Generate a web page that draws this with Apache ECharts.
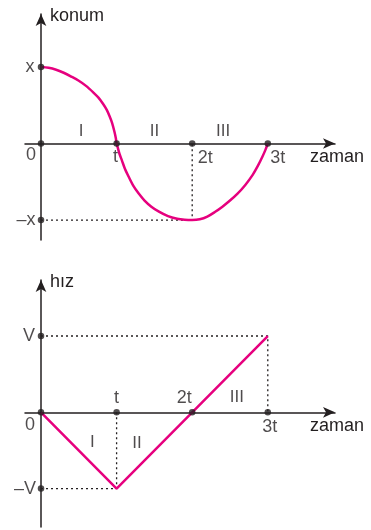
<!DOCTYPE html>
<html>
<head>
<meta charset="utf-8">
<script src="https://cdn.jsdelivr.net/npm/echarts@6/dist/echarts.min.js"></script>
<style>
  html, body { margin: 0; padding: 0; background: #fff; }
  #chart { width: 371px; height: 530px; }
</style>
</head>
<body>
<div id="chart"></div>
<script>
// zaman ekseni (t birimi)
var timeTicks = [0, 1, 2, 3];
var timeLabelsTop = ['0', 't', '2t', '3t'];
var timeLabelsBottom = ['0', 't', '2t', '3t'];

// konum grafiği (resimden okunan noktalar)
var posTicks = [1, -1];
var posLabels = ['x', '\u2013x'];
var konumT = [0, 0.1, 0.2, 0.3, 0.4, 0.5, 0.6, 0.7, 0.76, 0.82, 0.87, 0.91, 0.94, 0.97, 0.99, 1.0,
              1.02, 1.04, 1.07, 1.11, 1.16, 1.22, 1.29, 1.37, 1.46, 1.56, 1.68, 1.8, 1.9, 2.0,
              2.1, 2.2, 2.3, 2.4, 2.5, 2.6, 2.7, 2.8, 2.87, 2.93, 2.97, 3.0];
var konumX = [1, 0.99, 0.965, 0.925, 0.875, 0.82, 0.75, 0.66, 0.6, 0.52, 0.44, 0.35, 0.27, 0.16, 0.07, 0,
              -0.07, -0.14, -0.22, -0.33, -0.435, -0.55, -0.65, -0.745, -0.825, -0.89, -0.948, -0.982, -0.996, -1.0,
              -0.99, -0.955, -0.895, -0.825, -0.745, -0.655, -0.545, -0.41, -0.29, -0.17, -0.08, 0];

// hız grafiği
var velTicks = [1, -1];
var velLabels = ['V', '\u2013V'];
var hizT = [0, 1, 3];
var hizV = [0, -1, 1];

// bölge adları
var regionNames = ['I', 'II', 'III'];
var regionTop = [[0.53, 0.16], [1.50, 0.16], [2.41, 0.16]];
var regionBottom = [[0.68, -0.39], [1.27, -0.40], [2.59, 0.20]];

var ink = '#231f20';
var pink = '#e6007e';
var font = 'Liberation Sans, Arial, sans-serif';
var fs = 18;

var chart = echarts.init(document.getElementById('chart'));

function axisX(idx) {
    return {
        type: 'value', gridIndex: idx, min: -0.2116, max: 3.889,
        name: 'zaman', nameLocation: 'end', nameGap: -25,
        nameTextStyle: { color: ink, fontSize: fs, fontFamily: font, align: 'left', verticalAlign: 'top', padding: [5, 0, 0, 0] },
        axisLine: { onZero: true, symbol: ['none', 'arrow'], symbolSize: [8, 12], lineStyle: { color: ink, width: 1.5 } },
        axisTick: { show: false }, axisLabel: { show: false }, splitLine: { show: false }
    };
}

function axisY(idx, name, min, max) {
    return {
        type: 'value', gridIndex: idx, min: min, max: max,
        name: name, nameLocation: 'end', nameGap: -2,
        nameTextStyle: { color: ink, fontSize: fs, fontFamily: font, align: 'left', verticalAlign: 'middle', padding: [0, 0, 0, 9] },
        axisLine: { onZero: true, symbol: ['none', 'arrow'], symbolSize: [8, 12], lineStyle: { color: ink, width: 1.5 } },
        axisTick: { show: false }, axisLabel: { show: false }, splitLine: { show: false }
    };
}

// etiket kaymaları (piksel)
var offTop = { '0': [-10, 12], 't': [-1, 14], '2t': [13, 15], '3t': [10, 15], 'x': [-11, 0], '\u2013x': [-15, 0] };
var offBottom = { '0': [-11, 13], 't': [0, -14], '2t': [-8, -14], '3t': [2, 15], 'V': [-12, 0], '\u2013V': [-16, 0] };

function dots(idx, tLabels, vTicks, vLabels, off) {
    var d = [];
    timeTicks.forEach(function (t, i) { d.push({ value: [t, 0], name: tLabels[i] }); });
    vTicks.forEach(function (v, i) { d.push({ value: [0, v], name: vLabels[i] }); });
    return {
        type: 'scatter', xAxisIndex: idx, yAxisIndex: idx, symbolSize: 6.5, z: 5,
        itemStyle: { color: ink },
        data: d.map(function (p) {
            return {
                value: p.value,
                label: {
                    show: true, position: 'inside', formatter: p.name, offset: off[p.name],
                    color: ink, fontSize: fs, fontFamily: font, align: 'center', verticalAlign: 'middle'
                }
            };
        })
    };
}

function regions(idx, coords) {
    return {
        type: 'scatter', xAxisIndex: idx, yAxisIndex: idx, symbolSize: 0,
        data: coords.map(function (c, i) {
            return {
                value: c,
                label: { show: true, position: 'inside', formatter: regionNames[i], color: ink, fontSize: 17, fontFamily: font }
            };
        })
    };
}

function guide(idx, pts) {
    return {
        type: 'line', xAxisIndex: idx, yAxisIndex: idx, symbol: 'none', silent: true,
        lineStyle: { color: ink, width: 1.3, type: [2, 3] },
        data: pts
    };
}

chart.setOption({
    animation: false,
    grid: [
        { left: 25, width: 310, top: 14, height: 226 },
        { left: 25, width: 310, top: 280, height: 247 }
    ],
    xAxis: [axisX(0), axisX(1)],
    yAxis: [axisY(0, 'konum', -1.261, 1.693), axisY(1, 'hız', -1.503, 1.734)],
    series: [
        guide(0, [[0, posTicks[1]], [2, posTicks[1]], [2, 0]]),
        guide(1, [[0, velTicks[0]], [3, velTicks[0]], [3, 0]]),
        guide(1, [[0, velTicks[1]], [1, velTicks[1]], [1, 0]]),
        {
            type: 'line', xAxisIndex: 0, yAxisIndex: 0, symbol: 'none', smooth: 0.3,
            lineStyle: { color: pink, width: 2.5, join: 'round' },
            data: konumT.map(function (t, i) { return [t, konumX[i]]; })
        },
        {
            type: 'line', xAxisIndex: 1, yAxisIndex: 1, symbol: 'none',
            lineStyle: { color: pink, width: 2.5 },
            data: hizT.map(function (t, i) { return [t, hizV[i]]; })
        },
        dots(0, timeLabelsTop, posTicks, posLabels, offTop),
        dots(1, timeLabelsBottom, velTicks, velLabels, offBottom),
        regions(0, regionTop),
        regions(1, regionBottom)
    ]
});
</script>
</body>
</html>
